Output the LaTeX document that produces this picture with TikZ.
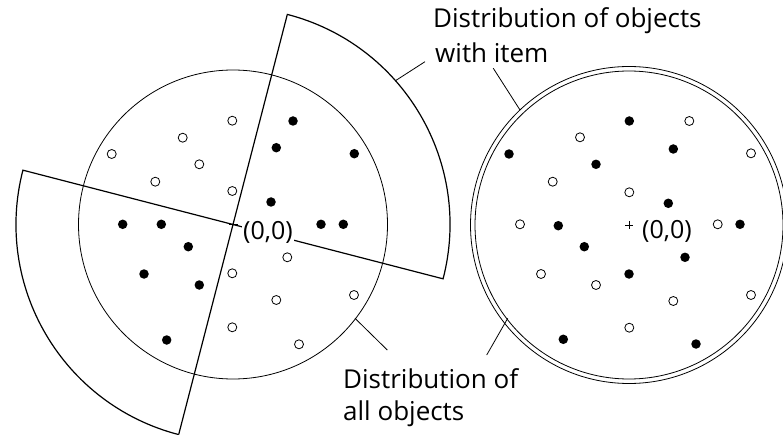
\documentclass[tikz,border=0pt]{standalone}
\usepackage{fontspec}
\setmainfont{Open Sans}
\usetikzlibrary{calc}
\begin{document}
\begin{tikzpicture}[x=1pt,y=-1pt,
  fdot/.style={circle,fill=black,inner sep=0pt,minimum size=9.5pt},
  odot/.style={circle,draw=black,line width=0.8pt,fill=white,inner sep=0pt,minimum size=9pt},
  thin line/.style={line width=0.8pt},
  sector line/.style={line width=1.2pt,line join=miter},
  lbl/.style={inner sep=0pt,anchor=base west,font=\fontsize{26}{30}\selectfont},
  origin/.style={inner sep=1pt,fill=white,font=\fontsize{25}{28}\selectfont}]
\useasboundingbox (0,0) rectangle (783,435);
% left diagram
\coordinate (cl) at (233,224.5);
\draw[thin line] (cl) circle[radius=154.5];
\draw[sector line] ($(cl)+(104.5:217)$) -- ($(cl)+(-75.5:217)$)
   arc[start angle=-75.5,end angle=14.5,radius=217]
   -- ($(cl)+(194.5:217)$)
   arc[start angle=194.5,end angle=104.5,radius=217];
\draw[thin line] ($(cl)+(-4,0)$) -- ($(cl)+(5,0)$);
\node[origin,anchor=west] (ol) at (242,232) {(0,0)};
\foreach \x/\y [count=\i] in {232.3/120.7,182.7/137.7,111.7/154,199.3/164.3,155.3/181.7,232.3/191,287.3/257.3,232.3/273.3,354/295,276.3/300,232.3/327.3,299/344.3}
  \node[odot] (lo\i) at (\x,\y) {};
\foreach \x/\y [count=\i] in {293/121,276.3/147.7,354.3/153.7,271/202,321/224.3,343.3/224.3,122.7/224.3,161.3/224.3,188.3/246.7,144/274,199.3/285,166.7/340}
  \node[fdot] (lf\i) at (\x,\y) {};
% right diagram
\coordinate (cr) at (629,225);
\draw[thin line] (cr) circle[radius=154];
\draw[thin line] (cr) circle[radius=158.5];
\draw[thin line] ($(cr)+(-4,0)$) -- ($(cr)+(4,0)$) ($(cr)+(0,-4)$) -- ($(cr)+(0,4)$);
\node[origin,anchor=west,fill=none] (or) at (641,231) {(0,0)};
\foreach \x/\y [count=\i] in {689.3/121,580/137.3,751/153.3,552.7/181.7,629.3/192.3,520/224.3,717.7/224.3,541/274,596/285,673.3/301,751/295,629.3/327.7}
  \node[odot] (ro\i) at (\x,\y) {};
\foreach \x/\y [count=\i] in {629.3/121,673.3/149,509/154,596/164.3,668.3/203.3,558.3/225.7,740/224.3,584.3/246.7,685/257.3,629/274,563.3/339.3,696/344}
  \node[fdot] (rf\i) at (\x,\y) {};
% labels
\node[lbl] (t1a) at (433,28) {Distribution of objects};
\node[lbl] (t1b) at (435,63) {with item};
\node[lbl] (t2a) at (343,388) {Distribution of};
\node[lbl] (t2b) at (343,420) {all objects};
% pointers
\coordinate (a1) at (395,81);
\coordinate (a1e) at (425,61.7);
\coordinate (a2) at (520,110);
\coordinate (a2e) at (493.3,68.3);
\coordinate (a3) at (355,318.3);
\coordinate (a3e) at (387.3,350);
\coordinate (a4) at (507.7,318.3);
\coordinate (a4e) at (486.7,355);
\draw[thin line] (a1) -- (a1e);
\draw[thin line] (a2) -- (a2e);
\draw[thin line] (a3) -- (a3e);
\draw[thin line] (a4) -- (a4e);
\end{tikzpicture}
\end{document}
